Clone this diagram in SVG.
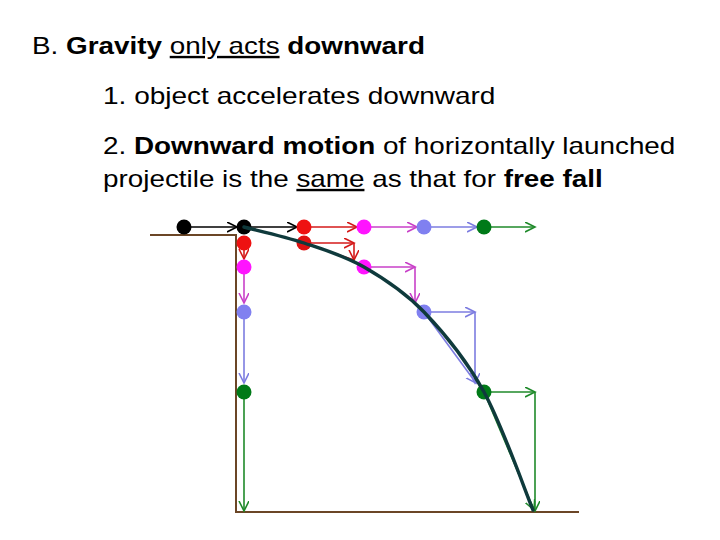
<svg xmlns="http://www.w3.org/2000/svg" width="720" height="540" viewBox="0 0 720 540">
<style>
.t{font-family:"Liberation Sans",Arial,sans-serif;font-size:24px;fill:#000}
.b{font-weight:bold}
.u{text-decoration:underline}
.ground{stroke:#6b4626;stroke-width:2;fill:none}
.a{fill:none;stroke-width:1.6}
.k{stroke:#000}
.r{stroke:#d41a1a}
.m{stroke:#c840c8}
.bl{stroke:#7c7ce0}
.g{stroke:#1f8a2a}
.traj{fill:none;stroke:#0f3a3c;stroke-width:3.4;stroke-linecap:round}
</style>
<defs>
<marker id="hk" markerUnits="userSpaceOnUse" markerWidth="12" markerHeight="12" refX="10" refY="5" orient="auto"><path d="M0,0 L10,5 L0,10" fill="none" stroke="#000" stroke-width="1.6"/></marker>
<marker id="hr" markerUnits="userSpaceOnUse" markerWidth="12" markerHeight="12" refX="10" refY="5" orient="auto"><path d="M0,0 L10,5 L0,10" fill="none" stroke="#d41a1a" stroke-width="1.6"/></marker>
<marker id="hm" markerUnits="userSpaceOnUse" markerWidth="12" markerHeight="12" refX="10" refY="5" orient="auto"><path d="M0,0 L10,5 L0,10" fill="none" stroke="#c840c8" stroke-width="1.6"/></marker>
<marker id="hb" markerUnits="userSpaceOnUse" markerWidth="12" markerHeight="12" refX="10" refY="5" orient="auto"><path d="M0,0 L10,5 L0,10" fill="none" stroke="#7c7ce0" stroke-width="1.6"/></marker>
<marker id="hg" markerUnits="userSpaceOnUse" markerWidth="12" markerHeight="12" refX="10" refY="5" orient="auto"><path d="M0,0 L10,5 L0,10" fill="none" stroke="#1f8a2a" stroke-width="1.6"/></marker>
</defs>
<rect width="720" height="540" fill="#fff"/>

<g id="title">
<g transform="translate(32,54) scale(1.16,1)"><text class="t" x="0" y="0">B. <tspan class="b">Gravity</tspan> <tspan class="u">only acts</tspan> <tspan class="b">downward</tspan></text></g>
<g transform="translate(103,104) scale(1.168,1)"><text class="t" x="0" y="0">1. object accelerates downward</text></g>
<g transform="translate(103,154) scale(1.16,1)"><text class="t" x="0" y="0">2. <tspan class="b">Downward motion</tspan> of horizontally launched</text></g>
<g transform="translate(103,187) scale(1.16,1)"><text class="t" x="0" y="0">projectile is the <tspan class="u">same</tspan> as that for <tspan class="b">free fall</tspan></text></g>
</g>

<g id="ground">
<path class="ground" d="M150,235 H236 V512 H579"/>
</g>

<g id="connectors">
<line class="a k" x1="184" y1="227" x2="237" y2="227" marker-end="url(#hk)"/>
<line class="a k" x1="244" y1="227" x2="297" y2="227" marker-end="url(#hk)"/>
<line class="a r" x1="304" y1="227" x2="357" y2="227" marker-end="url(#hr)"/>
<line class="a m" x1="364" y1="227" x2="417" y2="227" marker-end="url(#hm)"/>
<line class="a bl" x1="424" y1="227" x2="477" y2="227" marker-end="url(#hb)"/>
<line class="a g" x1="484" y1="227" x2="535" y2="227" marker-end="url(#hg)"/>
<line class="a r" x1="244" y1="243" x2="244" y2="259" marker-end="url(#hr)"/>
<line class="a m" x1="244" y1="267" x2="244" y2="303" marker-end="url(#hm)"/>
<line class="a bl" x1="244" y1="312" x2="244" y2="383" marker-end="url(#hb)"/>
<line class="a g" x1="244" y1="392" x2="244" y2="511" marker-end="url(#hg)"/>
<line class="a r" x1="304" y1="243" x2="354" y2="243" marker-end="url(#hr)"/>
<line class="a r" x1="354" y1="243" x2="354" y2="260" marker-end="url(#hr)"/>
<line class="a r" x1="304" y1="243" x2="354" y2="260"/>
<line class="a m" x1="364" y1="267" x2="415" y2="267" marker-end="url(#hm)"/>
<line class="a m" x1="415" y1="267" x2="415" y2="303" marker-end="url(#hm)"/>
<line class="a bl" x1="424" y1="312" x2="475" y2="312" marker-end="url(#hb)"/>
<line class="a bl" x1="475" y1="312" x2="475" y2="383" marker-end="url(#hb)"/>
<line class="a bl" x1="424" y1="312" x2="476" y2="383" marker-end="url(#hb)"/>
<line class="a g" x1="484" y1="392" x2="535" y2="392" marker-end="url(#hg)"/>
<line class="a g" x1="535" y1="392" x2="535" y2="511" marker-end="url(#hg)"/>
<line class="a g" x1="484" y1="392" x2="534" y2="510" marker-end="url(#hg)"/>
</g>

<g id="balls">
<g id="ball-black-start"><circle cx="184" cy="227" r="7.5" fill="#000"/></g>
<g id="ball-black"><circle cx="244" cy="227" r="7.5" fill="#000"/></g>
<g id="ball-red-top"><circle cx="304" cy="227" r="7.5" fill="#ee1111"/></g>
<g id="ball-magenta-top"><circle cx="364" cy="227" r="7.5" fill="#ff14ff"/></g>
<g id="ball-blue-top"><circle cx="424" cy="227" r="7.5" fill="#8080f0"/></g>
<g id="ball-green-top"><circle cx="484" cy="227" r="7.5" fill="#007a18"/></g>
<g id="ball-red-fall"><circle cx="244" cy="243" r="7.5" fill="#ee1111"/></g>
<g id="ball-magenta-fall"><circle cx="244" cy="267" r="7.5" fill="#ff14ff"/></g>
<g id="ball-blue-fall"><circle cx="244" cy="312" r="7.5" fill="#8080f0"/></g>
<g id="ball-green-fall"><circle cx="244" cy="392" r="7.5" fill="#007a18"/></g>
<g id="ball-red-proj"><circle cx="304" cy="243" r="7.5" fill="#dd1111"/></g>
<g id="ball-magenta-proj"><circle cx="364" cy="267" r="7.5" fill="#ff14ff"/></g>
<g id="ball-blue-proj"><circle cx="424" cy="312" r="7.5" fill="#8080f0"/></g>
<g id="ball-green-proj"><circle cx="484" cy="392" r="7.5" fill="#007a18"/></g>
</g>

<g id="trajectory">
<path class="traj" d="M244,227 C254,229.7 284,236.3 304,243 C324,249.7 344,255.5 364,267 C384,278.5 404,291.2 424,312 C444,332.8 465.8,359 484,392 C502.2,425 524.8,490.3 533,510"/>
</g>
</svg>
